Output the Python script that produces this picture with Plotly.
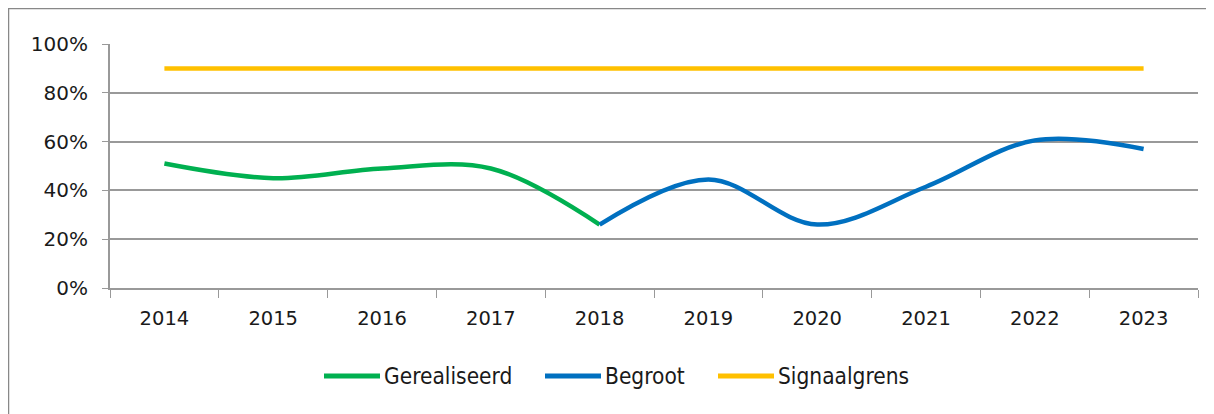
import plotly.graph_objects as go

years = ["2014", "2015", "2016", "2017", "2018", "2019", "2020", "2021", "2022", "2023"]
gerealiseerd = [0.51, 0.45, 0.49, 0.49, 0.26, None, None, None, None, None]
begroot = [None, None, None, None, 0.26, 0.445, 0.26, 0.415, 0.605, 0.57]
signaalgrens = [0.9] * 10
y_ticks = [0, 0.2, 0.4, 0.6, 0.8, 1.0]
y_labels = ["0%", "20%", "40%", "60%", "80%", "100%"]

series_names = ["Gerealiseerd", "Begroot", "Signaalgrens"]
series_colors = ["#00B050", "#0070C0", "#FFC000"]

fig = go.Figure()
fig.add_trace(go.Scatter(x=years, y=gerealiseerd, name=series_names[0], mode="lines",
                         line=dict(color=series_colors[0], width=4.5, shape="spline", smoothing=1)))
fig.add_trace(go.Scatter(x=years, y=begroot, name=series_names[1], mode="lines",
                         line=dict(color=series_colors[1], width=4.5, shape="spline", smoothing=1)))
fig.add_trace(go.Scatter(x=years, y=signaalgrens, name=series_names[2], mode="lines",
                         line=dict(color=series_colors[2], width=4.5)))

# page body has an 8px margin, so figure coords = screen coords - 8
W, H = 1206, 406
l, r, t, b = 102, 16, 36, 126
pw, ph = W - l - r, H - t - b

def px_x(p):
    return (p - l) / pw

def px_y(p):
    return (H - b - p) / ph

shapes = [dict(type="rect", xref="paper", yref="paper",
               x0=px_x(0.5), x1=px_x(1203), y0=px_y(430), y1=px_y(0.5),
               line=dict(color="#888888", width=1.5), fillcolor="rgba(0,0,0,0)",
               layer="below")]
annotations = []
legend_starts = [316, 537, 710]  # figure px, start of each legend sample line
legend_y = 368
for name, color, x0 in zip(series_names, series_colors, legend_starts):
    shapes.append(dict(type="line", xref="paper", yref="paper",
                       x0=px_x(x0), x1=px_x(x0 + 56), y0=px_y(legend_y), y1=px_y(legend_y),
                       line=dict(color=color, width=5)))
    annotations.append(dict(text=name, xref="paper", yref="paper", x=px_x(x0 + 58),
                            y=px_y(legend_y), xanchor="left", yanchor="middle", showarrow=False,
                            font=dict(family="DejaVu Sans Condensed, DejaVu Sans", size=22.5,
                                      color="#1a1a1a")))

fig.update_layout(
    width=W, height=H,
    margin=dict(l=l, r=r, t=t, b=b),
    paper_bgcolor="white", plot_bgcolor="white",
    font=dict(family="DejaVu Sans", size=19, color="#1a1a1a"),
    showlegend=False,
    xaxis=dict(type="category", tickson="boundaries", ticks="outside", ticklen=8,
               tickcolor="#999999", showline=True, linecolor="#999999", linewidth=2,
               showgrid=False, range=[-0.5, 9.5], tickfont=dict(size=19.5), ticklabelstandoff=12),
    yaxis=dict(range=[0, 1.0], tickvals=y_ticks, ticktext=y_labels, ticks="outside",
               ticklen=6, tickcolor="#999999", showline=True, linecolor="#999999", linewidth=2,
               showgrid=True, gridcolor="#999999", gridwidth=1.5, zeroline=False,
               tickfont=dict(size=20), ticklabelstandoff=10),
    shapes=shapes,
    annotations=annotations,
)

fig.write_html("out.html")
